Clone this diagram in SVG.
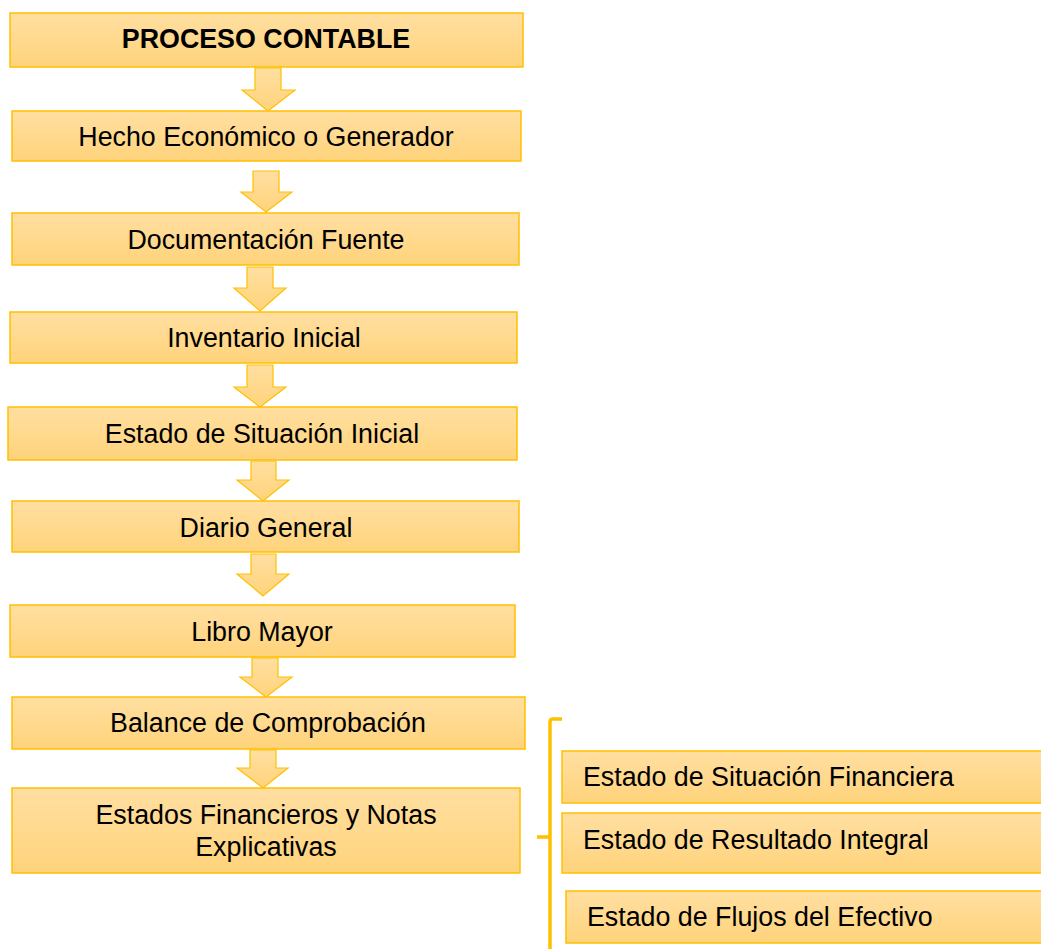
<svg xmlns="http://www.w3.org/2000/svg" width="1041" height="949" viewBox="0 0 1041 949">
<defs>
<linearGradient id="g" x1="0" y1="0" x2="0" y2="1">
<stop offset="0" stop-color="#FFDFA1"/>
<stop offset="1" stop-color="#FFD37B"/>
</linearGradient>
<style>
.box{fill:url(#g);stroke:#FFC000;stroke-width:1.5}
.arr{fill:url(#g);stroke:#FFC000;stroke-width:1.2;stroke-linejoin:miter}
.t{font-family:"Liberation Sans",Arial,sans-serif;font-size:26.8px;fill:#000}
.c{text-anchor:middle}
.b{font-weight:bold}
.br{fill:none;stroke:#FFC000;stroke-width:3.5}
</style>
</defs>
<rect width="1041" height="949" fill="#fff"/>
<g id="connectors">
<polygon class="arr" points="255,68 281,68 281,90 295,90 268,111 242,90 255,90"/>
<polygon class="arr" points="253,171 279,171 279,192 292,192 266,212 241,192 253,192"/>
<polygon class="arr" points="247,267 273,267 273,288 286,288 260,311 234,288 247,288"/>
<polygon class="arr" points="247,365 273,365 273,387 286,387 260,407 234,387 247,387"/>
<polygon class="arr" points="251,461 276,461 276,480 289,480 263,501 237,480 251,480"/>
<polygon class="arr" points="251,554 276,554 276,574 289,574 263,596 237,574 251,574"/>
<polygon class="arr" points="252,658 278,658 278,677 292,677 266,697 240,677 252,677"/>
<polygon class="arr" points="250,750 276,750 276,768 288,768 263,788 237,768 250,768"/>
<path class="br" d="M562,719 L553,719 Q550,719 550,722 L550,955 M537,837 L550,837"/>
</g>
<g id="n1"><rect class="box" x="10" y="13" width="513" height="54"/><text class="t c b" x="266" y="48">PROCESO CONTABLE</text></g>
<g id="n2"><rect class="box" x="12" y="111" width="509" height="50"/><text class="t c" x="266" y="146">Hecho Económico o Generador</text></g>
<g id="n3"><rect class="box" x="12" y="213" width="507" height="52"/><text class="t c" x="266" y="249">Documentación Fuente</text></g>
<g id="n4"><rect class="box" x="10" y="312" width="507" height="51"/><text class="t c" x="264" y="347">Inventario Inicial</text></g>
<g id="n5"><rect class="box" x="8" y="407" width="509" height="53"/><text class="t c" x="262" y="443">Estado de Situación Inicial</text></g>
<g id="n6"><rect class="box" x="12" y="501" width="507" height="51"/><text class="t c" x="266" y="537">Diario General</text></g>
<g id="n7"><rect class="box" x="10" y="605" width="505" height="52"/><text class="t c" x="262" y="641">Libro Mayor</text></g>
<g id="n8"><rect class="box" x="12" y="697" width="513" height="52"/><text class="t c" x="268" y="732">Balance de Comprobación</text></g>
<g id="n9"><rect class="box" x="12" y="788" width="508" height="85"/><text class="t c" x="266" y="824">Estados Financieros y Notas</text><text class="t c" x="266" y="856">Explicativas</text></g>
<g id="r1"><rect class="box" x="562" y="751" width="490" height="52"/><text class="t" x="583" y="786">Estado de Situación Financiera</text></g>
<g id="r2"><rect class="box" x="562" y="813" width="490" height="60"/><text class="t" x="583" y="849">Estado de Resultado Integral</text></g>
<g id="r3"><rect class="box" x="566" y="891" width="486" height="52"/><text class="t" x="587" y="926">Estado de Flujos del Efectivo</text></g>
</svg>
